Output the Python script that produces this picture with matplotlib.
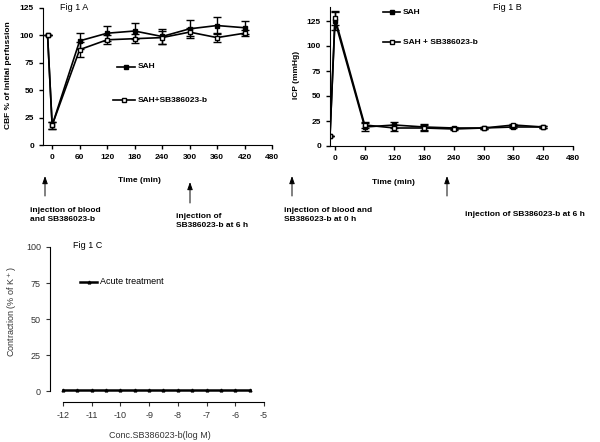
import numpy as np
import matplotlib
matplotlib.use('Agg')
import matplotlib.pyplot as plt

plt.rcParams['font.family'] = ['Liberation Sans', 'DejaVu Sans']
plt.rcParams['axes.unicode_minus'] = False

# Fig 1A - CBF
time_a = [-10, 0, 60, 120, 180, 240, 300, 360, 420]
cbf_sah = [100, 18, 95, 102, 104, 99, 106, 109, 107]
cbf_sah_err = [0, 3, 7, 7, 7, 7, 8, 8, 6]
cbf_sb = [100, 18, 87, 96, 97, 98, 103, 98, 102]
cbf_sb_err = [0, 3, 7, 4, 4, 6, 4, 4, 3]

# Fig 1B - ICP
time_b = [-10, 0, 60, 120, 180, 240, 300, 360, 420]
icp_sah = [10, 125, 19, 21, 19, 18, 18, 19, 19]
icp_sah_err = [0, 9, 4, 3, 3, 1, 1, 1, 1]
icp_sb = [10, 128, 21, 18, 18, 17, 18, 21, 19]
icp_sb_err = [0, 7, 3, 3, 3, 1, 1, 1, 1]

# Fig 1C - contraction
conc = [-12, -11.5, -11, -10.5, -10, -9.5, -9, -8.5, -8, -7.5, -7, -6.5, -6, -5.5]
contraction = [1] * len(conc)

W, H = 600, 442
fig = plt.figure(figsize=(6, 4.42), dpi=100)


def box(l, r, t, b):
    return [l / W, 1 - b / H, (r - l) / W, (b - t) / H]


def fx(x):
    return x / W


def fy(y):
    return 1 - y / H


bold = dict(fontweight='bold', fontsize=6)

# ---------- A ----------
ax1 = fig.add_axes(box(43, 272, 8, 145))
ax1.errorbar(time_a, cbf_sah, yerr=cbf_sah_err, color='black', marker='s', ms=3.5,
             mfc='black', lw=1.2, capsize=3, elinewidth=1)
ax1.errorbar(time_a, cbf_sb, yerr=cbf_sb_err, color='black', marker='s', ms=3.5,
             mfc='white', lw=1.2, capsize=3, elinewidth=1)
ax1.set_xlim(-20, 480)
ax1.set_ylim(0, 125)
ax1.set_xticks(range(0, 481, 60))
ax1.set_yticks(range(0, 126, 25))
fig.text(fx(9), fy(75), 'CBF % of initial perfussion', rotation=90,
         ha='center', va='center', **bold)

# ---------- B ----------
ax2 = fig.add_axes(box(330, 573, 7, 146))
ax2.errorbar(time_b, icp_sah, yerr=icp_sah_err, color='black', marker='s', ms=2.5,
             mfc='black', lw=1.2, capsize=3, elinewidth=1)
ax2.errorbar(time_b, icp_sb, yerr=icp_sb_err, color='black', marker='s', ms=3.5,
             mfc='white', lw=1.2, capsize=3, elinewidth=1)
ax2.set_xlim(-10, 480)
ax2.set_ylim(0, 139)
ax2.set_xticks(range(0, 481, 60))
ax2.set_yticks(range(0, 126, 25))

for ax in (ax1, ax2):
    for s in ('top', 'right'):
        ax.spines[s].set_visible(False)
    ax.tick_params(direction='out', length=3, width=1, labelsize=6)
    for lab in ax.get_xticklabels() + ax.get_yticklabels():
        lab.set_fontweight('bold')

# ---------- C ----------
ax3 = fig.add_axes(box(50, 264, 247, 402))
ax3.plot(conc, contraction, color='black', marker='^', ms=2, lw=1.8)
ax3.set_xlim(-12.45, -5)
ax3.set_ylim(-7.6, 100)
ax3.set_xticks(range(-12, -4))
ax3.set_yticks(range(0, 101, 25))
ax3.spines['left'].set_bounds(0, 100)
ax3.spines['bottom'].set_bounds(-12, -5)
for s in ('top', 'right'):
    ax3.spines[s].set_visible(False)
ax3.tick_params(direction='out', length=3, width=0.8, labelsize=6.5, colors='#333333')
fig.text(fx(160), fy(435), 'Conc.SB386023-b(log M)', fontsize=6.5, ha='center',
         va='center', color='#333333')
fig.text(fx(12), fy(312), 'Contraction (% of K$^+$)', fontsize=6.5, rotation=90,
         ha='center', va='center', color='#333333')

# ---------- legends (drawn by hand) ----------
def legend_entry(x0, x1, y, text, mfc, ms=3.5, marker='s', lw=1.2, weight='bold', size=6):
    fig.add_artist(plt.Line2D([fx(x0), fx(x1)], [fy(y), fy(y)], color='black', lw=lw))
    fig.add_artist(plt.Line2D([fx((x0 + x1) / 2)], [fy(y)], color='black', marker=marker,
                              ms=ms, mfc=mfc))
    fig.text(fx(x1 + 3), fy(y), text, fontsize=size, fontweight=weight, va='center')


legend_entry(117, 135, 67, 'SAH', 'black')
legend_entry(113, 135, 100, 'SAH+SB386023-b', 'white')
legend_entry(383, 400, 12, 'SAH', 'black', ms=2.5)
legend_entry(383, 400, 42, 'SAH + SB386023-b', 'white')
legend_entry(80, 97, 282, 'Acute treatment', 'black', ms=2, marker='^', lw=1.8,
             weight='normal', size=6.5)

# ---------- titles / labels ----------
fig.text(fx(60), fy(8), 'Fig 1 A', fontsize=6.5, va='center')
fig.text(fx(493), fy(7), 'Fig 1 B', fontsize=6.5, va='center')
fig.text(fx(73), fy(246), 'Fig 1 C', fontsize=6.5, va='center')
fig.text(fx(139), fy(180), 'Time (min)', ha='center', va='center', **bold)
fig.text(fx(393), fy(183), 'Time (min)', ha='center', va='center', **bold)
fig.text(fx(296), fy(75), 'ICP (mmHg)', rotation=90, ha='center', va='center', **bold)

# ---------- arrows ----------
def arrow(x, y_tail, y_head):
    fig.add_artist(matplotlib.patches.FancyArrowPatch(
        (fx(x), fy(y_tail)), (fx(x), fy(y_head)), transform=fig.transFigure,
        arrowstyle='-|>,head_width=1.6,head_length=4.5', color='black', lw=0.7,
        shrinkA=0, shrinkB=0))


arrow(45, 196, 176)
arrow(190, 203, 182)
arrow(292, 196, 176)
arrow(447, 196, 176)

fig.text(fx(30), fy(215), 'injection of blood\nand SB386023-b', va='center',
         linespacing=1.5, **bold)
fig.text(fx(176), fy(221), 'injection of\nSB386023-b at 6 h', va='center',
         linespacing=1.5, **bold)
fig.text(fx(284), fy(215), 'injection of blood and\nSB386023-b at 0 h', va='center',
         linespacing=1.5, **bold)
fig.text(fx(465), fy(214), 'injection of SB386023-b at 6 h', va='center', **bold)

fig.savefig('out.png', dpi=100)
